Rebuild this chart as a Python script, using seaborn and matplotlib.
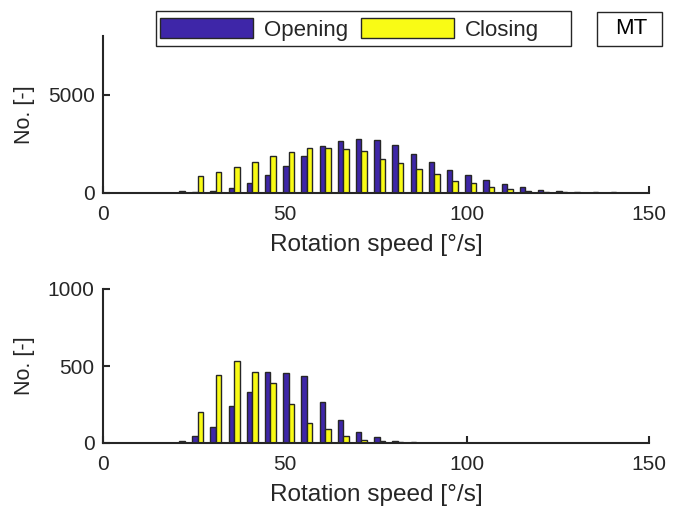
import numpy as np
import pandas as pd
import matplotlib
matplotlib.use("Agg")
import matplotlib.pyplot as plt
import seaborn as sns
from matplotlib.patches import Patch, Rectangle

# ---- data ----
speed_centers = [21, 26, 31, 36, 41, 46, 51, 56, 61, 66, 71, 76, 81, 86, 91, 96,
                 101, 106, 111, 116, 121, 126, 131, 136, 141, 146]
top_opening = [0, 30, 120, 260, 510, 900, 1390, 1870, 2420, 2660, 2760, 2690, 2470,
               1975, 1565, 1170, 900, 660, 450, 290, 170, 115, 70, 50, 30, 15]
top_closing = [110, 860, 1070, 1310, 1570, 1870, 2080, 2270, 2280, 2250, 2130, 1750,
               1550, 1220, 965, 625, 500, 320, 195, 120, 70, 40, 25, 15, 10, 5]
bot_opening = [3, 43, 107, 238, 332, 458, 452, 435, 268, 149, 72, 36, 15, 7, 3, 3,
               1, 0, 0, 0, 0, 0, 0, 0, 0, 0]
bot_closing = [13, 202, 443, 532, 464, 390, 256, 128, 89, 46, 20, 15, 6, 3, 1, 1,
               0, 0, 0, 0, 0, 0, 0, 0, 0, 0]
series_names = ["Opening", "Closing"]
x_ticks = [0, 50, 100, 150]
top_yticks = [0, 5000]
bot_yticks = [0, 500, 1000]
xlabel = "Rotation speed [°/s]"
ylabel = "No. [-]"
tag = "MT"

colors = ["#3E26A8", "#F9FB15"]
axcol = "#262626"

sns.set_style("white")
plt.rcParams["font.family"] = ["Liberation Sans", "DejaVu Sans"]
plt.rcParams["font.size"] = 15

fig = plt.figure(figsize=(6.81, 5.12), dpi=100)
ax1 = fig.add_axes([103 / 681, 1 - 193 / 512, 546 / 681, 157 / 512])
ax2 = fig.add_axes([103 / 681, 1 - 443 / 512, 546 / 681, 154 / 512])


def make_df(op, cl):
    return pd.DataFrame({
        "speed": speed_centers * 2,
        "count": list(op) + list(cl),
        "type": [series_names[0]] * len(op) + [series_names[1]] * len(cl),
    })


for ax, op, cl, yt, ylim in [(ax1, top_opening, top_closing, top_yticks, 8000),
                              (ax2, bot_opening, bot_closing, bot_yticks, 1000)]:
    df = make_df(op, cl)
    sns.barplot(data=df, x="speed", y="count", hue="type", native_scale=True,
                palette=colors, hue_order=series_names, width=0.6, dodge=True,
                saturation=1, edgecolor=axcol, linewidth=1.0, legend=False,
                errorbar=None, ax=ax)
    ax.set_xlim(0, 150)
    ax.set_ylim(0, ylim)
    ax.set_xticks(x_ticks)
    ax.set_yticks(yt)
    ax.set_xlabel(xlabel, color=axcol, fontsize=17.6, labelpad=7)
    ax.set_ylabel(ylabel, color=axcol, fontsize=15.5)
    for s in ["top", "right"]:
        ax.spines[s].set_visible(False)
    for s in ["left", "bottom"]:
        ax.spines[s].set_color(axcol)
        ax.spines[s].set_linewidth(1.5)
    ax.tick_params(direction="in", length=5, width=1.5, colors=axcol,
                   labelcolor=axcol, left=True, bottom=True)
    ax.tick_params(axis="x", pad=8.5)
    ax.tick_params(axis="y", pad=6)
    ax.yaxis.set_label_coords(-0.125, 0.5)

# legend box (frame drawn separately to mimic the wide right padding)
fig.patches.append(Rectangle((156 / 681, 1 - 45.7 / 512), 415 / 681, 35 / 512,
                             transform=fig.transFigure, facecolor="white",
                             edgecolor=axcol, linewidth=1.0, zorder=1))
handles = [Patch(facecolor=colors[0], edgecolor=axcol, linewidth=1.0),
           Patch(facecolor=colors[1], edgecolor=axcol, linewidth=1.0)]
leg = fig.legend(handles, series_names, ncol=2, loc="center",
                 bbox_to_anchor=(349.5 / 681, 1 - 29.5 / 512),
                 frameon=False, handlelength=4.17,
                 handleheight=0.95, columnspacing=0.6, handletextpad=0.5,
                 borderpad=0.3, fontsize=16)

fig.patches.append(Rectangle((596.7 / 681, 1 - 45.7 / 512), 65 / 681, 34 / 512,
                             transform=fig.transFigure, facecolor="white",
                             edgecolor=axcol, linewidth=1.0, zorder=1))
fig.text(631.5 / 681, 1 - 28.7 / 512, tag, ha="center", va="center", fontsize=16,
         color="black")

fig.savefig("out.png", dpi=100)
